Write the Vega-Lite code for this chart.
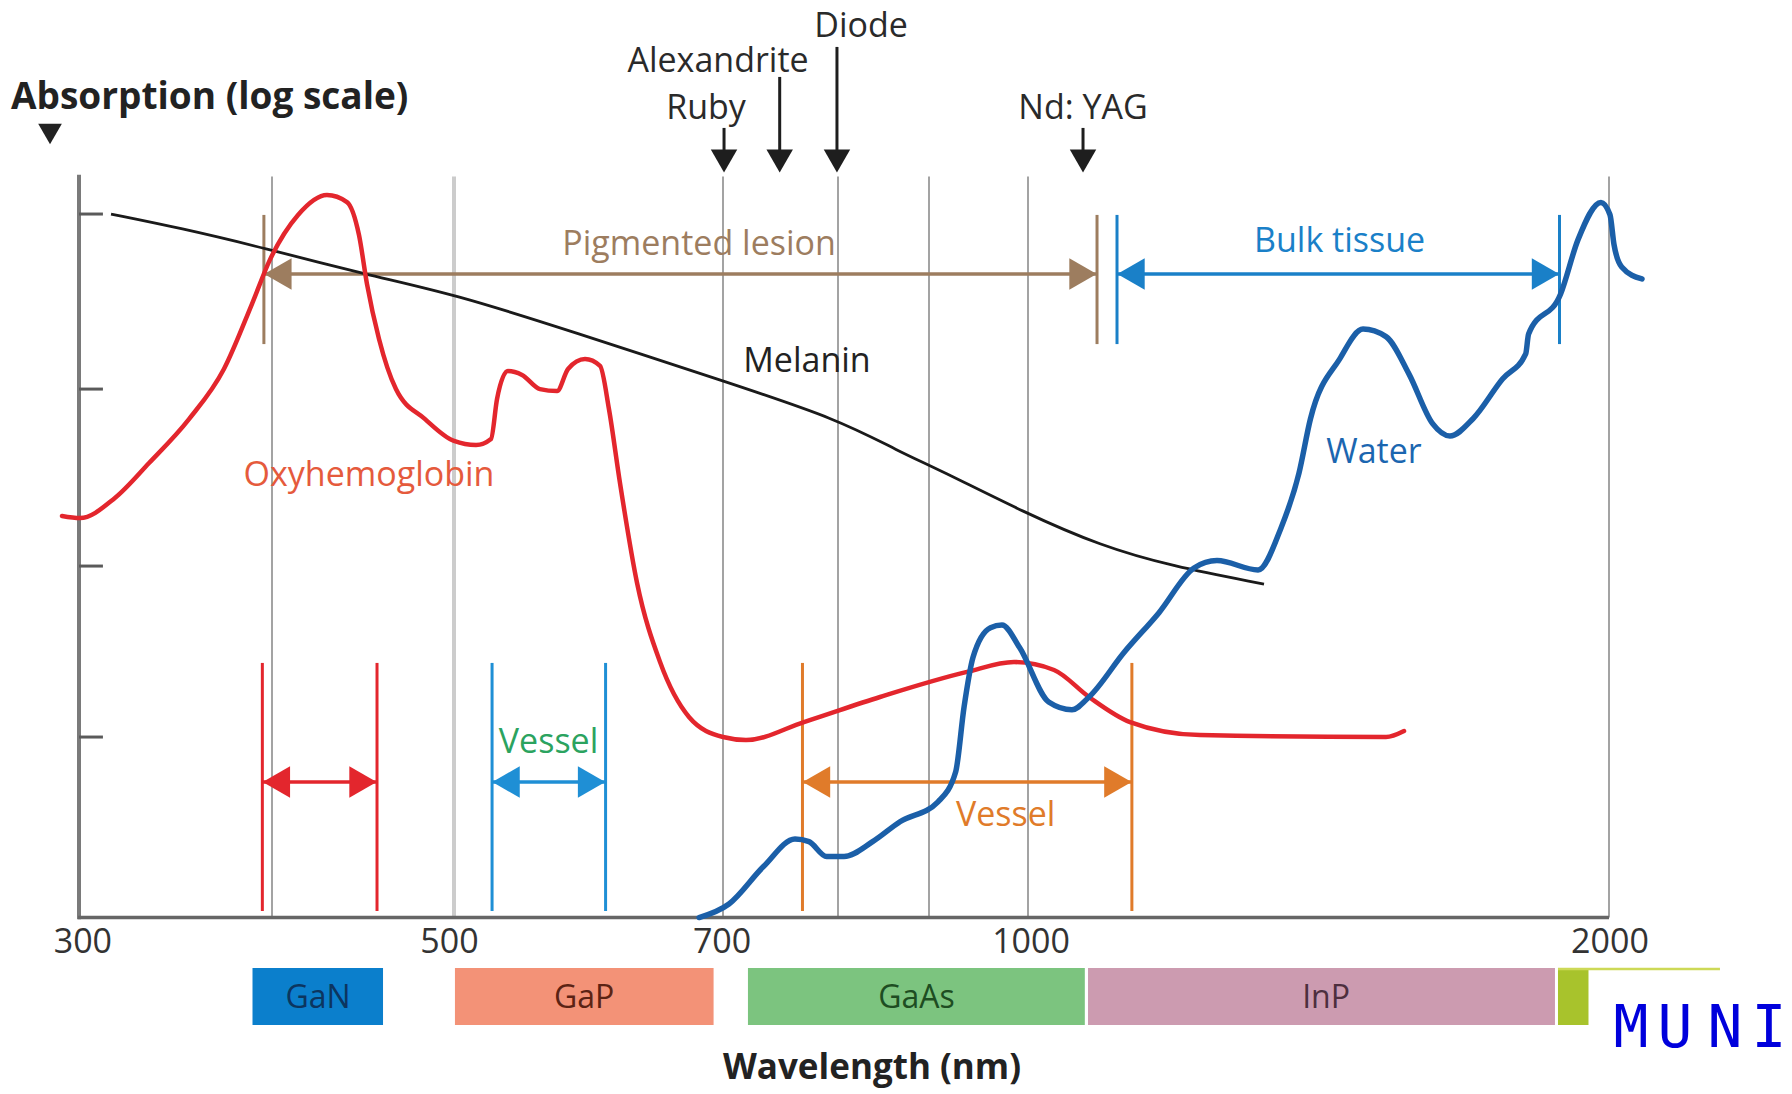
{
 "$schema": "https://vega.github.io/schema/vega-lite/v6.json",
 "width": 1792, "height": 1094,
 "autosize": {"type": "fit", "contains": "padding"},
 "padding": 0,
 "background": "white",
 "config": {"view": {"stroke": null}, "axis": {"disable": true}, "legend": {"disable": true}, "font": "Open Sans"},
 "resolve": {"scale": {"color": "independent"}},
 "datasets": {
  "grid": [{"wl":400,"g":"thin"},{"wl":500,"g":"thick"},{"wl":700,"g":"thin"},{"wl":800,"g":"thin"},{"wl":900,"g":"thin"},{"wl":1000,"g":"thin"},{"wl":2000,"g":"thin"}],
  "yticks": [{"a":1.023},{"a":1.992},{"a":2.995},{"a":3.987}],
  "curves": [
   {"s":"Melanin","wl":316.6,"a":3.987},{"s":"Melanin","wl":352.3,"a":3.908},{"s":"Melanin","wl":395.8,"a":3.795},{"s":"Melanin","wl":452.2,"a":3.642},{"s":"Melanin","wl":500,"a":3.534},{"s":"Melanin","wl":589.2,"a":3.318},{"s":"Melanin","wl":700,"a":3.041},{"s":"Melanin","wl":800,"a":2.825},{"s":"Melanin","wl":868.1,"a":2.638},{"s":"Melanin","wl":909.1,"a":2.542},{"s":"Melanin","wl":997,"a":2.293},{"s":"Melanin","wl":1125.6,"a":2.106},{"s":"Melanin","wl":1246.1,"a":1.992},{"s":"Melanin","wl":1406.2,"a":1.89},
   {"s":"Oxy","wl":291.2,"a":2.276},{"s":"Oxy","wl":300.5,"a":2.264},{"s":"Oxy","wl":318.6,"a":2.378},{"s":"Oxy","wl":336.3,"a":2.576},{"s":"Oxy","wl":357.0,"a":2.825},{"s":"Oxy","wl":375.1,"a":3.109},{"s":"Oxy","wl":389.6,"a":3.477},{"s":"Oxy","wl":398.9,"a":3.727},{"s":"Oxy","wl":414.3,"a":3.982},{"s":"Oxy","wl":430.2,"a":4.095},{"s":"Oxy","wl":441.2,"a":4.055},{"s":"Oxy","wl":447.8,"a":3.868},{"s":"Oxy","wl":452.2,"a":3.59},{"s":"Oxy","wl":458.8,"a":3.279},{"s":"Oxy","wl":468.1,"a":2.995},{"s":"Oxy","wl":484.1,"a":2.825},{"s":"Oxy","wl":500,"a":2.701},{"s":"Oxy","wl":516.4,"a":2.678},{"s":"Oxy","wl":527.5,"a":2.712},{"s":"Oxy","wl":532.0,"a":2.939},{"s":"Oxy","wl":540.1,"a":3.097},{"s":"Oxy","wl":550.6,"a":3.075},{"s":"Oxy","wl":563.9,"a":2.995},{"s":"Oxy","wl":576.6,"a":2.984},{"s":"Oxy","wl":584.8,"a":3.109},{"s":"Oxy","wl":597.4,"a":3.165},{"s":"Oxy","wl":608.6,"a":3.126},{"s":"Oxy","wl":615.2,"a":2.882},{"s":"Oxy","wl":623.4,"a":2.463},{"s":"Oxy","wl":636.1,"a":1.896},{"s":"Oxy","wl":653.2,"a":1.448},{"s":"Oxy","wl":674.7,"a":1.137},{"s":"Oxy","wl":700,"a":1.023},{"s":"Oxy","wl":720,"a":1.006},{"s":"Oxy","wl":770.4,"a":1.108},{"s":"Oxy","wl":846.2,"a":1.25},{"s":"Oxy","wl":938.4,"a":1.392},{"s":"Oxy","wl":985.9,"a":1.448},{"s":"Oxy","wl":1044.8,"a":1.403},{"s":"Oxy","wl":1105,"a":1.25},{"s":"Oxy","wl":1175.6,"a":1.108},{"s":"Oxy","wl":1296,"a":1.034},{"s":"Oxy","wl":1616.2,"a":1.023},{"s":"Oxy","wl":1647.2,"a":1.057},
   {"s":"Water","wl":682.2,"a":0.0},{"s":"Water","wl":705.2,"a":0.077},{"s":"Water","wl":735.2,"a":0.289},{"s":"Water","wl":762.6,"a":0.445},{"s":"Water","wl":774.8,"a":0.43},{"s":"Water","wl":790.1,"a":0.346},{"s":"Water","wl":806.6,"a":0.346},{"s":"Water","wl":838.0,"a":0.43},{"s":"Water","wl":868.1,"a":0.543},{"s":"Water","wl":909.1,"a":0.656},{"s":"Water","wl":926.9,"a":0.825},{"s":"Water","wl":935.4,"a":1.193},{"s":"Water","wl":944.4,"a":1.474},{"s":"Water","wl":962.1,"a":1.643},{"s":"Water","wl":973.7,"a":1.658},{"s":"Water","wl":991.5,"a":1.53},{"s":"Water","wl":1035.6,"a":1.222},{"s":"Water","wl":1075.7,"a":1.178},{"s":"Water","wl":1105,"a":1.25},{"s":"Water","wl":1165.2,"a":1.502},{"s":"Water","wl":1225.5,"a":1.728},{"s":"Water","wl":1285.7,"a":1.981},{"s":"Water","wl":1325.3,"a":2.023},{"s":"Water","wl":1395.9,"a":1.97},{"s":"Water","wl":1435.5,"a":2.208},{"s":"Water","wl":1466.4,"a":2.519},{"s":"Water","wl":1486.2,"a":2.827},{"s":"Water","wl":1536.3,"a":3.165},{"s":"Water","wl":1576.6,"a":3.335},{"s":"Water","wl":1616.2,"a":3.292},{"s":"Water","wl":1655.8,"a":3.08},{"s":"Water","wl":1696.4,"a":2.799},{"s":"Water","wl":1726.3,"a":2.729},{"s":"Water","wl":1765.9,"a":2.827},{"s":"Water","wl":1816.7,"a":3.052},{"s":"Water","wl":1856.6,"a":3.194},{"s":"Water","wl":1861.6,"a":3.307},{"s":"Water","wl":1916.7,"a":3.534},{"s":"Water","wl":1946.7,"a":3.842},{"s":"Water","wl":1986.2,"a":4.053},{"s":"Water","wl":2001.7,"a":3.983},{"s":"Water","wl":2008.6,"a":3.814},{"s":"Water","wl":2021.9,"a":3.687},{"s":"Water","wl":2056.8,"a":3.619}
  ],
  "br": [
   {"b":"lesion","lo":395.8,"hi":1118.8,"ylo":3.25,"yhi":3.982,"ya":3.647},
   {"b":"bulk","lo":1153.2,"hi":1914.8,"ylo":3.25,"yhi":3.982,"ya":3.647},
   {"b":"red","lo":395,"hi":457.7,"ylo":0.037,"yhi":1.443,"ya":0.768},
   {"b":"blue","lo":528.3,"hi":612.7,"ylo":0.037,"yhi":1.443,"ya":0.768},
   {"b":"orange","lo":769.1,"hi":1178.8,"ylo":0.037,"yhi":1.443,"ya":0.768}
  ],
  "lasers": [
   {"n":"Ruby","wl":700.9,"top":4.475,"lx":687.4,"ly":4.585},
   {"n":"Alexandrite","wl":749.3,"top":4.764,"lx":696.3,"ly":4.849},
   {"n":"Diode","wl":799.1,"top":4.934,"lx":825.3,"ly":5.047},
   {"n":"Nd: YAG","wl":1094.7,"top":4.475,"lx":1094.7,"ly":4.585}
  ],
  "labels": [
   {"t":"Pigmented lesion","k":"lesion","wl":682.2,"a":3.814},
   {"t":"Bulk tissue","k":"bulk","wl":1536.3,"a":3.829},
   {"t":"Melanin","k":"melanin","wl":773,"a":3.151},
   {"t":"Oxyhemoglobin","k":"oxy","wl":453.3,"a":2.502},
   {"t":"Water","k":"water","wl":1595.5,"a":2.633},
   {"t":"Vessel","k":"vgreen","wl":570.3,"a":0.991},
   {"t":"Vessel","k":"vorange","wl":977.5,"a":0.577}
  ],
  "xl": [{"t":"300","wl":302},{"t":"500","wl":497.5},{"t":"700","wl":699.3},{"t":"1000","wl":1005.2},{"t":"2000","wl":2001.7}],
  "bars": [
   {"n":"GaN","lo":389.9,"hi":461,"c":425.3},
   {"n":"GaP","lo":500.7,"hi":693,"c":596.7},
   {"n":"GaAs","lo":721.7,"hi":1097.8,"c":886.3},
   {"n":"InP","lo":1103.3,"hi":1907,"c":1513},
   {"n":"yg","lo":1912.2,"hi":1964.7,"c":1938}
  ],
  "muni": [{"l":"M","wl":2037.9},{"l":"U","wl":2113.6},{"l":"N","wl":2199.7},{"l":"I","wl":2275.4}]
 },
 "layer": [
  {"data":{"name":"grid"},"transform":[{"filter":"datum.g==='thin'"}],"mark":{"type":"rule","color":"#a3a3a3","strokeWidth":2},
   "encoding":{"x":{"field":"wl","type":"quantitative","scale":{"domain":[259.1,300,400,500,700,800,900,1000,2000,2315],"range":[0,79,272,454,723,838,929,1028,1609,1792],"nice":false,"zero":false}},"y":{"datum":0,"scale":{"domain":[-1,5.2],"nice":false,"zero":false}},"y2":{"datum":4.2}}},
  {"data":{"name":"grid"},"transform":[{"filter":"datum.g==='thick'"}],"mark":{"type":"rule","color":"#cccccc","strokeWidth":4},
   "encoding":{"x":{"field":"wl","type":"quantitative"},"y":{"datum":0},"y2":{"datum":4.2}}},
  {"data":{"values":[{}]},"mark":{"type":"rule","color":"#7a7a7a","strokeWidth":4},"encoding":{"x":{"datum":300},"y":{"datum":-0.01},"y2":{"datum":4.21}}},
  {"data":{"name":"yticks"},"mark":{"type":"rule","color":"#5a5a5a","strokeWidth":3},"encoding":{"x":{"datum":300},"x2":{"datum":312.4},"y":{"field":"a","type":"quantitative"}}},
  {"data":{"values":[{}]},"mark":{"type":"rule","color":"#666666","strokeWidth":3.5},"encoding":{"x":{"datum":299.5},"x2":{"datum":2000},"y":{"datum":0}}},
  {"data":{"name":"br"},"mark":{"type":"rule","strokeWidth":3},"encoding":{"x":{"field":"lo","type":"quantitative"},"y":{"field":"ylo","type":"quantitative"},"y2":{"field":"yhi"},"color":{"field":"b","type":"nominal","legend":null,"scale":{"domain":["lesion","bulk","red","blue","orange"],"range":["#9d7d5f","#1a80c8","#e3262d","#1f8fd5","#e07b2a"]}}}},
  {"data":{"name":"br"},"mark":{"type":"rule","strokeWidth":3},"encoding":{"x":{"field":"hi","type":"quantitative"},"y":{"field":"ylo","type":"quantitative"},"y2":{"field":"yhi"},"color":{"field":"b","type":"nominal","legend":null,"scale":{"domain":["lesion","bulk","red","blue","orange"],"range":["#9d7d5f","#1a80c8","#e3262d","#1f8fd5","#e07b2a"]}}}},
  {"data":{"name":"br"},"mark":{"type":"rule","strokeWidth":3.5},"encoding":{"x":{"field":"lo","type":"quantitative"},"x2":{"field":"hi"},"y":{"field":"ya","type":"quantitative"},"color":{"field":"b","type":"nominal","legend":null,"scale":{"domain":["lesion","bulk","red","blue","orange"],"range":["#9d7d5f","#1a80c8","#e3262d","#1f8fd5","#e07b2a"]}}}},
  {"data":{"name":"br"},"mark":{"type":"point","shape":"triangle-left","filled":true,"opacity":1,"size":1000,"xOffset":14},"encoding":{"x":{"field":"lo","type":"quantitative"},"y":{"field":"ya","type":"quantitative"},"color":{"field":"b","type":"nominal","legend":null,"scale":{"domain":["lesion","bulk","red","blue","orange"],"range":["#9d7d5f","#1a80c8","#e3262d","#1f8fd5","#e07b2a"]}}}},
  {"data":{"name":"br"},"mark":{"type":"point","shape":"triangle-right","filled":true,"opacity":1,"size":1000,"xOffset":-14},"encoding":{"x":{"field":"hi","type":"quantitative"},"y":{"field":"ya","type":"quantitative"},"color":{"field":"b","type":"nominal","legend":null,"scale":{"domain":["lesion","bulk","red","blue","orange"],"range":["#9d7d5f","#1a80c8","#e3262d","#1f8fd5","#e07b2a"]}}}},
  {"data":{"name":"curves"},"transform":[{"filter":"datum.s==='Melanin'"}],"mark":{"type":"line","color":"#1a1a1a","strokeWidth":2.8,"interpolate":"basis"},"encoding":{"x":{"field":"wl","type":"quantitative"},"y":{"field":"a","type":"quantitative"}}},
  {"data":{"name":"curves"},"transform":[{"filter":"datum.s==='Oxy'"}],"mark":{"type":"line","color":"#e3262d","strokeWidth":4.5,"interpolate":"monotone","strokeCap":"round"},"encoding":{"x":{"field":"wl","type":"quantitative"},"y":{"field":"a","type":"quantitative"}}},
  {"data":{"name":"curves"},"transform":[{"filter":"datum.s==='Water'"}],"mark":{"type":"line","color":"#1b5fa8","strokeWidth":5.5,"interpolate":"monotone","strokeCap":"round"},"encoding":{"x":{"field":"wl","type":"quantitative"},"y":{"field":"a","type":"quantitative"}}},
  {"data":{"name":"lasers"},"mark":{"type":"rule","color":"#1e1e1e","strokeWidth":3},"encoding":{"x":{"field":"wl","type":"quantitative"},"y":{"field":"top","type":"quantitative"},"y2":{"datum":4.3}}},
  {"data":{"name":"lasers"},"mark":{"type":"point","shape":"triangle-down","filled":true,"opacity":1,"size":700,"color":"#1e1e1e"},"encoding":{"x":{"field":"wl","type":"quantitative"},"y":{"datum":4.288}}},
  {"data":{"name":"lasers"},"mark":{"type":"text","fontSize":34,"color":"#2a2a2a","baseline":"middle","align":"center"},"encoding":{"x":{"field":"lx","type":"quantitative"},"y":{"field":"ly","type":"quantitative"},"text":{"field":"n"}}},
  {"data":{"name":"labels"},"mark":{"type":"text","fontSize":34,"baseline":"middle","align":"center"},"encoding":{"x":{"field":"wl","type":"quantitative"},"y":{"field":"a","type":"quantitative"},"text":{"field":"t"},"color":{"field":"k","type":"nominal","legend":null,"scale":{"domain":["lesion","bulk","melanin","oxy","water","vgreen","vorange"],"range":["#9d7d5f","#1a80c8","#222222","#e55a3c","#1b66b0","#2ba35f","#e07b2a"]}}}},
  {"data":{"name":"xl"},"mark":{"type":"text","fontSize":34,"baseline":"middle","align":"center","color":"#333333"},"encoding":{"x":{"field":"wl","type":"quantitative"},"y":{"datum":-0.144},"text":{"field":"t"}}},
  {"data":{"name":"bars"},"mark":{"type":"rect","opacity":1},"encoding":{"x":{"field":"lo","type":"quantitative"},"x2":{"field":"hi"},"y":{"datum":-0.286},"y2":{"datum":-0.609},"color":{"field":"n","type":"nominal","legend":null,"scale":{"domain":["GaN","GaP","GaAs","InP","yg"],"range":["#0b7fcc","#f39277","#7cc47f","#cc9bb0","#a8c32c"]}}}},
  {"data":{"values":[{}]},"mark":{"type":"rule","color":"#cdd957","strokeWidth":2.5},"encoding":{"x":{"datum":1912.2},"x2":{"datum":2191},"y":{"datum":-0.292}}},
  {"data":{"name":"bars"},"transform":[{"filter":"datum.n!=='yg'"}],"mark":{"type":"text","fontSize":32,"baseline":"middle","align":"center"},"encoding":{"x":{"field":"c","type":"quantitative"},"y":{"datum":-0.456},"text":{"field":"n"},"color":{"field":"n","type":"nominal","legend":null,"scale":{"domain":["GaN","GaP","GaAs","InP"],"range":["#0c355f","#5b2314","#1e4d22","#4d2f3e"]}}}},
  {"data":{"values":[{}]},"mark":{"type":"text","text":"Absorption (log scale)","fontSize":37,"fontWeight":"bold","align":"left","baseline":"middle","color":"#222222"},"encoding":{"x":{"datum":264.8},"y":{"datum":4.645}}},
  {"data":{"values":[{}]},"mark":{"type":"point","shape":"triangle-down","filled":true,"opacity":1,"size":560,"color":"#222222"},"encoding":{"x":{"datum":285},"y":{"datum":4.441}}},
  {"data":{"values":[{}]},"mark":{"type":"text","text":"Wavelength (nm)","fontSize":35,"fontWeight":"bold","align":"center","baseline":"middle","color":"#222222"},"encoding":{"x":{"datum":837.4},"y":{"datum":-0.85}}},
  {"data":{"name":"muni"},"mark":{"type":"text","font":"DejaVu Sans Mono","fontSize":58,"align":"center","baseline":"middle","color":"#0000dc"},"encoding":{"x":{"field":"wl","type":"quantitative"},"y":{"datum":-0.637},"text":{"field":"l"}}}
 ]
}
